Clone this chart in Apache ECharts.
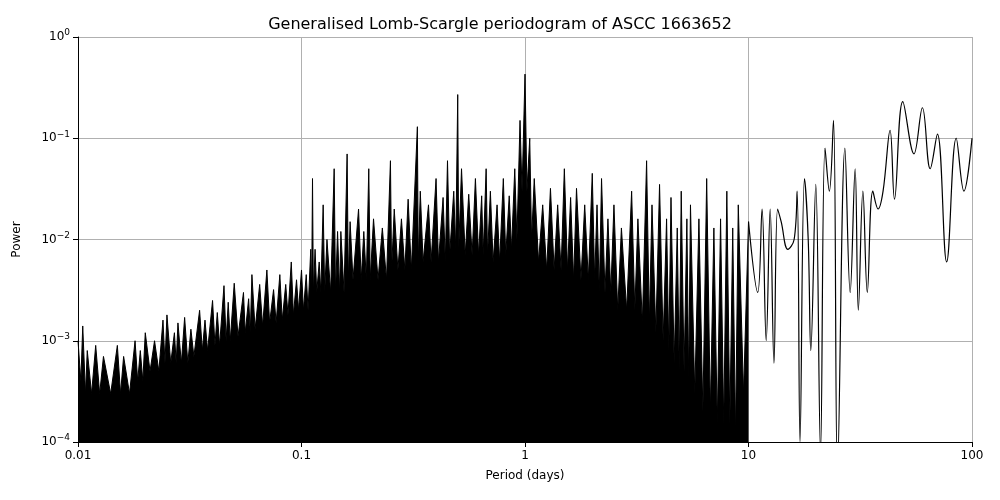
<!DOCTYPE html>
<html><head><meta charset="utf-8">
<script src="https://cdn.jsdelivr.net/npm/echarts@6/dist/echarts.min.js"></script>
<style>body{margin:0}#c{width:1000px;height:500px}</style></head>
<body><div id="c"></div>
<script>
// envelope of the dense short-period part: [period, power]
var densePart = [[0.01,1e-3],[0.0103,4e-4],[0.0105,1.4e-3],[0.0108,3e-4],[0.011,8e-4],[0.0115,3e-4],[0.012,9e-4],[0.0125,3e-4],[0.013,7e-4],[0.014,3e-4],[0.015,9e-4],[0.0155,3e-4],[0.016,7e-4],[0.017,3e-4],[0.018,1e-3],[0.0185,4e-4],[0.019,8e-4],[0.0195,4e-4],[0.02,1.2e-3],[0.021,5e-4],[0.022,1e-3],[0.023,5e-4],[0.024,1.6e-3],[0.0245,6e-4],[0.025,1.8e-3],[0.026,6e-4],[0.027,1.2e-3],[0.0275,6e-4],[0.028,1.5e-3],[0.029,6e-4],[0.03,1.7e-3],[0.031,6e-4],[0.032,1.3e-3],[0.033,7e-4],[0.035,2e-3],[0.036,8e-4],[0.037,1.6e-3],[0.038,8e-4],[0.04,2.5e-3],[0.041,9e-4],[0.042,1.9e-3],[0.043,9e-4],[0.045,3.5e-3],[0.046,1e-3],[0.047,2.4e-3],[0.048,1e-3],[0.05,3.7e-3],[0.052,1.1e-3],[0.055,3e-3],[0.056,1.2e-3],[0.058,2.6e-3],[0.059,1.2e-3],[0.06,4.5e-3],[0.062,1.3e-3],[0.065,3.6e-3],[0.067,1.4e-3],[0.07,5e-3],[0.072,1.5e-3],[0.075,3.2e-3],[0.077,1.5e-3],[0.08,4.5e-3],[0.082,1.6e-3],[0.085,3.6e-3],[0.087,1.8e-3],[0.09,6e-3],[0.092,1.8e-3],[0.095,4e-3],[0.097,2e-3],[0.1,5e-3],[0.102,2e-3],[0.105,4.5e-3],[0.107,2e-3],[0.11,8e-3],[0.111,3e-3],[0.112,0.04],[0.113,3e-3],[0.115,8e-3],[0.117,3e-3],[0.12,6e-3],[0.122,3e-3],[0.125,0.022],[0.127,3e-3],[0.13,0.01],[0.135,3e-3],[0.14,0.05],[0.142,3e-3],[0.145,0.012],[0.148,3e-3],[0.15,0.012],[0.155,3e-3],[0.16,0.07],[0.162,4e-3],[0.165,0.015],[0.17,4e-3],[0.18,0.02],[0.185,4e-3],[0.19,0.012],[0.195,4e-3],[0.2,0.05],[0.203,4e-3],[0.21,0.016],[0.22,4e-3],[0.23,0.013],[0.24,4e-3],[0.25,0.06],[0.253,5e-3],[0.26,0.02],[0.27,5e-3],[0.28,0.016],[0.29,5e-3],[0.3,0.025],[0.31,5e-3],[0.33,0.13],[0.333,6e-3],[0.34,0.03],[0.35,6e-3],[0.37,0.022],[0.38,6e-3],[0.4,0.04],[0.41,6e-3],[0.43,0.026],[0.44,6e-3],[0.45,0.06],[0.46,7e-3],[0.48,0.03],[0.49,8e-3],[0.5,0.27],[0.505,8e-3],[0.52,0.05],[0.54,7e-3],[0.56,0.028],[0.58,7e-3],[0.6,0.04],[0.62,7e-3],[0.64,0.027],[0.65,7e-3],[0.67,0.05],[0.68,7e-3],[0.7,0.03],[0.72,6e-3],[0.75,0.022],[0.77,6e-3],[0.8,0.04],[0.82,7e-3],[0.85,0.027],[0.87,8e-3],[0.9,0.05],[0.92,0.01],[0.95,0.15],[0.97,0.03],[1.0,0.43],[1.02,0.03],[1.05,0.1],[1.07,0.01],[1.1,0.04],[1.15,6e-3],[1.2,0.022],[1.25,5e-3],[1.3,0.032],[1.35,5e-3],[1.4,0.022],[1.45,5e-3],[1.5,0.05],[1.55,5e-3],[1.6,0.026],[1.65,4e-3],[1.7,0.032],[1.78,4e-3],[1.85,0.022],[1.92,4e-3],[2,0.045],[2.05,4e-3],[2.1,0.022],[2.15,3e-3],[2.2,0.04],[2.28,3e-3],[2.35,0.016],[2.42,3e-3],[2.5,0.022],[2.6,2e-3],[2.7,0.013],[2.85,2e-3],[3,0.03],[3.1,2e-3],[3.2,0.016],[3.35,1.5e-3],[3.5,0.06],[3.6,1.5e-3],[3.7,0.022],[3.85,1.2e-3],[4,0.035],[4.15,1e-3],[4.3,0.016],[4.4,8e-4],[4.5,0.026],[4.65,6e-4],[4.8,0.013],[4.9,5e-4],[5,0.03],[5.15,5e-4],[5.3,0.016],[5.4,4e-4],[5.5,0.022],[5.75,3e-4],[6,0.016],[6.25,2e-4],[6.5,0.04],[6.75,2e-4],[7,0.013],[7.25,1.5e-4],[7.5,0.016],[7.75,1.5e-4],[8,0.03],[8.25,1.5e-4],[8.5,0.013],[8.75,1.2e-4],[9,0.022],[9.5,3e-4],[10,0.015]];
// resolved oscillations at long periods
var longPart = [[10,0.015],[11,0.003],[11.5,0.02],[12,0.001],[12.5,0.02],[13,0.0006],[13.5,0.02],[14,0.015],[15,0.008],[16,0.01],[16.5,0.03],[17,0.0001],[17.8,0.04],[18.5,0.01],[19,0.0008],[20,0.035],[21,0.00008],[22,0.08],[23,0.03],[24,0.15],[25,0.00005],[27,0.08],[28.5,0.003],[30,0.05],[31,0.002],[32.5,0.03],[34,0.003],[36,0.03],[38,0.02],[40,0.03],[43,0.12],[45,0.025],[49,0.23],[55,0.07],[60,0.2],[65,0.05],[70,0.11],[77,0.006],[85,0.1],[92,0.03],[100,0.1]];
var yTicks = {1:'0', 0.1:'−1', 0.01:'−2', 0.001:'−3', 0.0001:'−4'};

var chart = echarts.init(document.getElementById('c'));
chart.setOption({
  animation: false,
  title: {text: 'Generalised Lomb-Scargle periodogram of ASCC 1663652', left: 'center', top: 12,
    textStyle: {fontFamily: 'DejaVu Sans', fontSize: 16, fontWeight: 'normal', color: '#000'}},
  grid: {left: 78, right: 28, top: 37, bottom: 58},
  xAxis: {type: 'log', min: 0.01, max: 100, logBase: 10,
    name: 'Period (days)', nameLocation: 'middle', nameGap: 28,
    nameTextStyle: {fontFamily: 'DejaVu Sans', fontSize: 12, color: '#000'},
    axisLine: {lineStyle: {color: '#000'}}, axisTick: {lineStyle: {color: '#000'}},
    axisLabel: {fontFamily: 'DejaVu Sans', fontSize: 12, color: '#000',
      formatter: function (v) { return String(+v.toPrecision(2)); }},
    splitLine: {show: true, lineStyle: {color: '#b0b0b0'}}},
  yAxis: {type: 'log', min: 0.0001, max: 1, logBase: 10,
    name: 'Power', nameLocation: 'middle', nameGap: 55,
    nameTextStyle: {fontFamily: 'DejaVu Sans', fontSize: 12, color: '#000'},
    axisLine: {lineStyle: {color: '#000'}}, axisTick: {lineStyle: {color: '#000'}},
    axisLabel: {fontFamily: 'DejaVu Sans', fontSize: 12, color: '#000',
      formatter: function (v) { var k = +v.toPrecision(2); return '10{s|' + (yTicks[k] || '') + '}'; },
      rich: {s: {fontSize: 9, verticalAlign: 'top', padding: [0, 0, 8, 0], color: '#000', fontFamily: 'DejaVu Sans'}}},
    splitLine: {show: true, lineStyle: {color: '#b0b0b0'}}},
  series: [
    {type: 'line', data: densePart, symbol: 'none', lineStyle: {color: '#000', width: 1},
      areaStyle: {color: '#000', opacity: 1, origin: 'start'}},
    {type: 'line', data: longPart, symbol: 'none', smooth: 0.4, lineStyle: {color: '#000', width: 1.2}}
  ]
});
</script></body></html>
